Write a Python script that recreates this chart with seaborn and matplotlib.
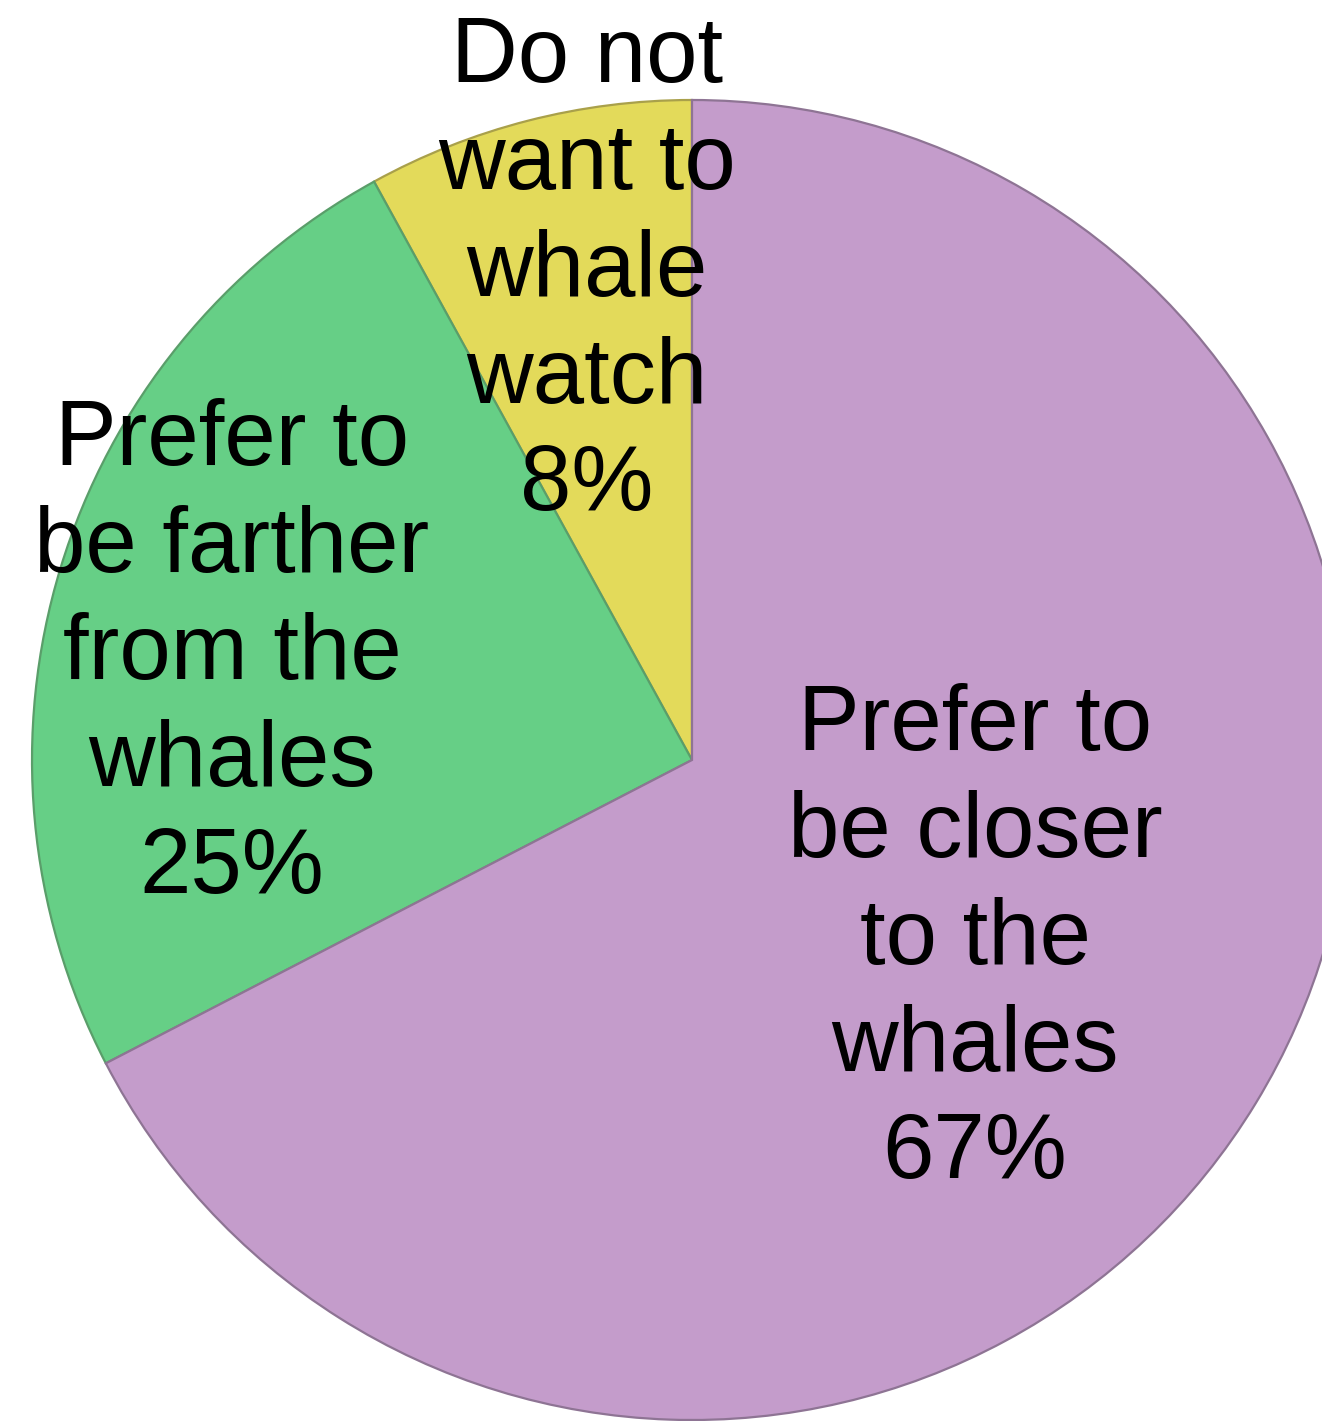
import matplotlib
matplotlib.use("Agg")
import matplotlib.pyplot as plt
import seaborn as sns

sns.set_theme(style="white")
plt.rcParams['font.family'] = ['Liberation Sans', 'DejaVu Sans']

categories = ["Do not\nwant to\nwhale\nwatch", "Prefer to\nbe farther\nfrom the\nwhales", "Prefer to\nbe closer\nto the\nwhales"]
values = [8.0, 24.6, 67.4]
colors = ["#E3DA5A", "#66CF86", "#C49CCB"]
edge_colors = ["#A9A04A", "#5A9E6A", "#8E7494"]
label_pos = [(587, 272), (232, 655), (975, 940)]

W, H = 1322, 1421
fig = plt.figure(figsize=(W / 100, H / 100), dpi=100)
ax = fig.add_axes([0, 0, 1, 1])

wedges, _ = ax.pie(values, colors=colors, startangle=90, counterclock=True,
                   center=(692, -760), radius=660, normalize=True,
                   wedgeprops=dict(linewidth=1.6))
for w, ec in zip(wedges, edge_colors):
    w.set_edgecolor(ec)
ax.set_xlim(0, W)
ax.set_ylim(-H, 0)
ax.set_aspect("equal")
ax.axis("off")

for cat, v, (x, y) in zip(categories, values, label_pos):
    ax.text(x, -y, f"{cat}\n{round(v)}%", ha="center", va="center", fontsize=66.5,
            linespacing=1.31, color="black")

fig.savefig("out.png", dpi=100)
